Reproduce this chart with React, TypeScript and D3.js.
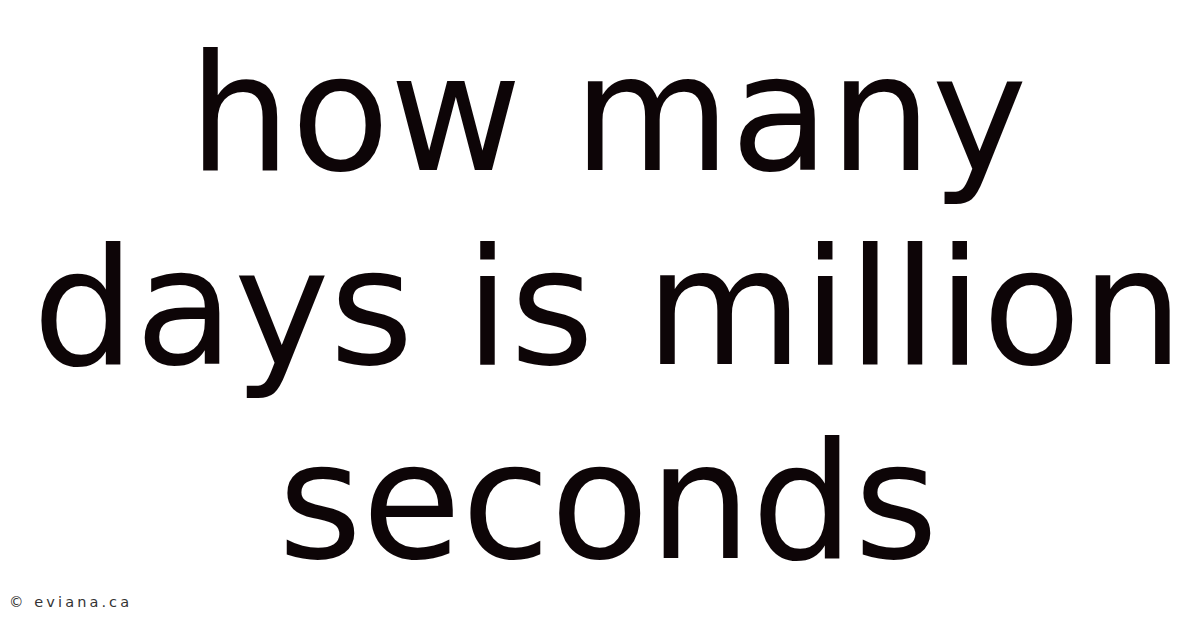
import React from 'react';
import * as d3 from 'd3';

// Text lines of the title card, top to bottom
const lines = ['how many', 'days is million', 'seconds'];
const credit = '© eviana.ca';

const width = 1200;
const height = 628;

export default function App() {
  // baselines for each line
  const y = d3.scalePoint<string>()
    .domain(lines)
    .range([170, 558]);

  return (
    <div style={{ position: 'fixed', left: 0, top: 0, width, height, background: '#fff' }}>
      <svg width={width} height={height} style={{ display: 'block' }}>
        <rect width={width} height={height} fill="#ffffff" />
        {lines.map(line => (
          <text
            key={line}
            x={width / 2 + 8}
            y={y(line)}
            textAnchor="middle"
            fontFamily="DejaVu Sans"
            fontSize={161.5}
            fill="#0d0507"
          >
            {line}
          </text>
        ))}
        <text
          x={9}
          y={607}
          fontFamily="DejaVu Sans"
          fontSize={14.5}
          letterSpacing={3.1}
          fill="#333333"
        >
          {credit}
        </text>
      </svg>
    </div>
  );
}
